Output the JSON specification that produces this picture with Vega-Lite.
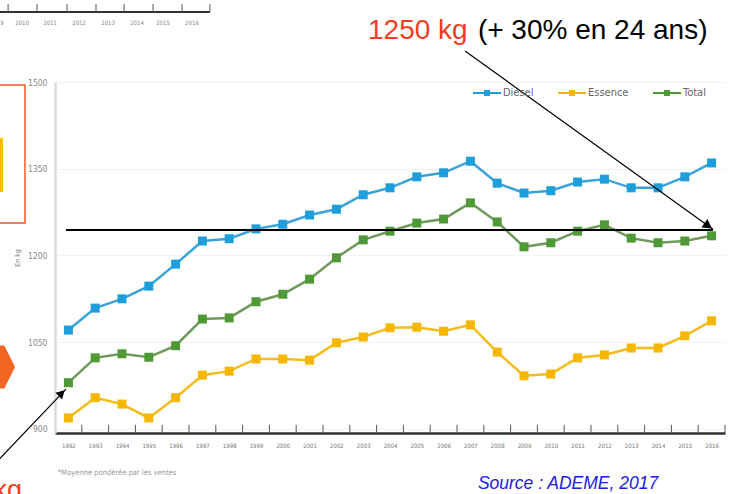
{
  "$schema": "https://vega.github.io/schema/vega-lite/v6.json",
  "width": 670,
  "height": 351,
  "autosize": "none",
  "padding": {"left": 55, "top": 82, "right": 6, "bottom": 61},
  "background": "white",
  "config": {"view": {"stroke": null}, "font": "Liberation Sans", "axisX": {"labelOverlap": false, "labelSeparation": 0}},
  "data": {"values": [
    {"year":1992,"series":"Diesel","kg":1071},{"year":1992,"series":"Essence","kg":919},{"year":1992,"series":"Total","kg":980},
    {"year":1993,"series":"Diesel","kg":1109},{"year":1993,"series":"Essence","kg":954},{"year":1993,"series":"Total","kg":1023},
    {"year":1994,"series":"Diesel","kg":1125},{"year":1994,"series":"Essence","kg":943},{"year":1994,"series":"Total","kg":1030},
    {"year":1995,"series":"Diesel","kg":1147},{"year":1995,"series":"Essence","kg":919},{"year":1995,"series":"Total","kg":1024},
    {"year":1996,"series":"Diesel","kg":1185},{"year":1996,"series":"Essence","kg":954},{"year":1996,"series":"Total","kg":1044},
    {"year":1997,"series":"Diesel","kg":1225},{"year":1997,"series":"Essence","kg":993},{"year":1997,"series":"Total","kg":1090},
    {"year":1998,"series":"Diesel","kg":1229},{"year":1998,"series":"Essence","kg":1000},{"year":1998,"series":"Total","kg":1092},
    {"year":1999,"series":"Diesel","kg":1246},{"year":1999,"series":"Essence","kg":1021},{"year":1999,"series":"Total","kg":1120},
    {"year":2000,"series":"Diesel","kg":1254},{"year":2000,"series":"Essence","kg":1021},{"year":2000,"series":"Total","kg":1133},
    {"year":2001,"series":"Diesel","kg":1270},{"year":2001,"series":"Essence","kg":1019},{"year":2001,"series":"Total","kg":1159},
    {"year":2002,"series":"Diesel","kg":1280},{"year":2002,"series":"Essence","kg":1049},{"year":2002,"series":"Total","kg":1196},
    {"year":2003,"series":"Diesel","kg":1305},{"year":2003,"series":"Essence","kg":1059},{"year":2003,"series":"Total","kg":1227},
    {"year":2004,"series":"Diesel","kg":1317},{"year":2004,"series":"Essence","kg":1075},{"year":2004,"series":"Total","kg":1242},
    {"year":2005,"series":"Diesel","kg":1336},{"year":2005,"series":"Essence","kg":1076},{"year":2005,"series":"Total","kg":1256},
    {"year":2006,"series":"Diesel","kg":1343},{"year":2006,"series":"Essence","kg":1069},{"year":2006,"series":"Total","kg":1263},
    {"year":2007,"series":"Diesel","kg":1363},{"year":2007,"series":"Essence","kg":1080},{"year":2007,"series":"Total","kg":1291},
    {"year":2008,"series":"Diesel","kg":1325},{"year":2008,"series":"Essence","kg":1033},{"year":2008,"series":"Total","kg":1258},
    {"year":2009,"series":"Diesel","kg":1308},{"year":2009,"series":"Essence","kg":992},{"year":2009,"series":"Total","kg":1215},
    {"year":2010,"series":"Diesel","kg":1312},{"year":2010,"series":"Essence","kg":995},{"year":2010,"series":"Total","kg":1222},
    {"year":2011,"series":"Diesel","kg":1327},{"year":2011,"series":"Essence","kg":1023},{"year":2011,"series":"Total","kg":1242},
    {"year":2012,"series":"Diesel","kg":1332},{"year":2012,"series":"Essence","kg":1028},{"year":2012,"series":"Total","kg":1253},
    {"year":2013,"series":"Diesel","kg":1317},{"year":2013,"series":"Essence","kg":1040},{"year":2013,"series":"Total","kg":1230},
    {"year":2014,"series":"Diesel","kg":1317},{"year":2014,"series":"Essence","kg":1040},{"year":2014,"series":"Total","kg":1222},
    {"year":2015,"series":"Diesel","kg":1336},{"year":2015,"series":"Essence","kg":1061},{"year":2015,"series":"Total","kg":1225},
    {"year":2016,"series":"Diesel","kg":1360},{"year":2016,"series":"Essence","kg":1087},{"year":2016,"series":"Total","kg":1234}
  ]},
  "layer": [
    {
      "mark": {"type": "line", "strokeWidth": 2.5},
      "encoding": {
        "x": {"field": "year", "type": "quantitative",
              "scale": {"domain": [1991.5, 2016.5], "nice": false, "zero": false},
              "axis": {"values": [1992,1993,1994,1995,1996,1997,1998,1999,2000,2001,2002,2003,2004,2005,2006,2007,2008,2009,2010,2011,2012,2013,2014,2015,2016],
                       "tickCount": 25, "format": "d", "title": null, "grid": false, "labelOverlap": false, "labelSeparation": 0,
                       "ticks": false, "domainColor": "#333", "domainWidth": 2.5,
                       "labelFont": "DejaVu Sans Condensed, Liberation Sans", "labelFontSize": 6, "labelColor": "#777", "labelPadding": 9}},
        "y": {"field": "kg", "type": "quantitative",
              "scale": {"domain": [893, 1500], "nice": false, "zero": false},
              "axis": {"values": [900, 1050, 1200, 1350, 1500], "format": "d", "title": "En kg",
                       "titleFont": "DejaVu Sans Condensed, Liberation Sans", "titleFontSize": 7, "titleColor": "#888", "titleFontWeight": "normal", "titlePadding": 7,
                       "ticks": false, "domainColor": "#dcdcdc", "domainWidth": 2.5,
                       "grid": true, "gridColor": "#f3f3f3",
                       "labelFont": "DejaVu Sans Condensed, Liberation Sans", "labelFontSize": 8.5, "labelColor": "#888", "labelPadding": 8}},
        "color": {"field": "series", "type": "nominal",
                  "scale": {"domain": ["Diesel", "Essence", "Total"], "range": ["#3aa4da", "#f5bd1c", "#6f9a5c"]},
                  "legend": {"title": null, "orient": "none", "direction": "horizontal",
                            "legendX": 418, "legendY": -3, "padding": 0, "columnPadding": 24,
                            "symbolSize": 784, "symbolStrokeWidth": 0, "labelOffset": 2,
                            "labelFont": "DejaVu Sans Condensed, Liberation Sans", "labelFontSize": 11, "labelColor": "#666",
                            "encode": {"symbols": {"update": {"shape": {"value": "M-1,-0.07H1V0.07H-1Z M-0.22,-0.22H0.22V0.22H-0.22Z"}, "strokeWidth": {"value": 0}, "opacity": {"value": 1}}}}}}
      }
    },
    {
      "mark": {"type": "point", "shape": "square", "filled": true, "size": 81, "opacity": 1, "strokeWidth": 0},
      "encoding": {
        "x": {"field": "year", "type": "quantitative"},
        "y": {"field": "kg", "type": "quantitative"},
        "fill": {"field": "series", "type": "nominal",
                 "scale": {"domain": ["Diesel", "Essence", "Total"], "range": ["#1e9fdb", "#f5b700", "#4f9a37"]},
                 "legend": null}
      }
    },
    {
      "data": {"values": [{"b":1992.5},{"b":1993.5},{"b":1994.5},{"b":1995.5},{"b":1996.5},{"b":1997.5},{"b":1998.5},{"b":1999.5},{"b":2000.5},{"b":2001.5},{"b":2002.5},{"b":2003.5},{"b":2004.5},{"b":2005.5},{"b":2006.5},{"b":2007.5},{"b":2008.5},{"b":2009.5},{"b":2010.5},{"b":2011.5},{"b":2012.5},{"b":2013.5},{"b":2014.5},{"b":2015.5},{"b":2016.5}]},
      "mark": {"type": "rule", "color": "#555", "strokeWidth": 1},
      "encoding": {"x": {"field": "b", "type": "quantitative"}, "y": {"datum": 893}, "y2": {"datum": 907}}
    },
    {
      "data": {"values": [{}]},
      "mark": {"type": "rule", "color": "black", "strokeWidth": 2},
      "encoding": {"x": {"datum": 1991.91}, "x2": {"datum": 2016.05}, "y": {"datum": 1244}}
    },
    {
      "data": {"values": [{}]},
      "mark": {"type": "rule", "color": "black", "strokeWidth": 1.2},
      "encoding": {"x": {"datum": 2006.8}, "y": {"datum": 1553.6}, "x2": {"datum": 2016.05}, "y2": {"datum": 1245.3}}
    },
    {
      "data": {"values": [{}]},
      "mark": {"type": "point", "shape": "triangle-right", "filled": true, "color": "black", "opacity": 1, "size": 110, "angle": 35.7},
      "encoding": {"x": {"datum": 2015.87}, "y": {"datum": 1251.3}}
    },
    {
      "data": {"values": [{}]},
      "mark": {"type": "rule", "color": "black", "strokeWidth": 1.2},
      "encoding": {"x": {"datum": 1989.3}, "y": {"datum": 842}, "x2": {"datum": 1991.91}, "y2": {"datum": 969}}
    },
    {
      "data": {"values": [{}]},
      "mark": {"type": "point", "shape": "triangle-right", "filled": true, "color": "black", "opacity": 1, "size": 90, "angle": -44.6},
      "encoding": {"x": {"datum": 1991.75}, "y": {"datum": 961.8}}
    },
    {
      "data": {"values": [{}]},
      "mark": {"type": "text", "align": "left", "baseline": "alphabetic", "fontSize": 28, "color": "#f23d1f", "font": "Liberation Sans"},
      "encoding": {"x": {"datum": 2003.18}, "y": {"datum": 1573.5}, "text": {"value": "1250 kg"}}
    },
    {
      "data": {"values": [{}]},
      "mark": {"type": "text", "align": "left", "baseline": "alphabetic", "fontSize": 28, "color": "black", "font": "Liberation Sans"},
      "encoding": {"x": {"datum": 2007.28}, "y": {"datum": 1573.5}, "text": {"value": "(+ 30% en 24 ans)"}}
    },
    {
      "data": {"values": [{}]},
      "mark": {"type": "text", "align": "left", "baseline": "alphabetic", "fontSize": 17.5, "fontStyle": "italic", "color": "#2020e0", "font": "Liberation Sans"},
      "encoding": {"x": {"datum": 2007.28}, "y": {"datum": 796}, "text": {"value": "Source : ADEME, 2017"}}
    },
    {
      "data": {"values": [{}]},
      "mark": {"type": "text", "align": "left", "baseline": "middle", "fontSize": 7.5, "color": "#999", "font": "DejaVu Sans Condensed, Liberation Sans"},
      "encoding": {"x": {"datum": 1991.61}, "y": {"datum": 823.8}, "text": {"value": "*Moyenne pondérée par les ventes"}}
    },
    {
      "data": {"values": [{}]},
      "mark": {"type": "text", "align": "right", "baseline": "alphabetic", "fontSize": 27, "color": "#f23d1f", "font": "Liberation Sans"},
      "encoding": {"x": {"datum": 1990.27}, "y": {"datum": 778.9}, "text": {"value": "kg"}}
    },
    {
      "data": {"values": [{}]},
      "mark": {"type": "rect", "fill": null, "stroke": "#f05a28", "strokeWidth": 1.5},
      "encoding": {"x": {"datum": 1989.2}, "x2": {"datum": 1990.38}, "y": {"datum": 1494.8}, "y2": {"datum": 1256.2}}
    },
    {
      "data": {"values": [{}]},
      "mark": {"type": "rect", "fill": "#ffc000"},
      "encoding": {"x": {"datum": 1989.2}, "x2": {"datum": 1989.56}, "y": {"datum": 1403.2}, "y2": {"datum": 1309.8}}
    },
    {
      "data": {"values": [{}]},
      "mark": {"type": "point", "shape": "M-3,-1H-0.5L0,0L-0.5,1H-3Z", "filled": true, "color": "#f26522", "opacity": 1, "size": 1849},
      "encoding": {"x": {"datum": 1990.01}, "y": {"datum": 1007}}
    },
    {
      "data": {"values": [{}]},
      "mark": {"type": "rule", "color": "#333", "strokeWidth": 2},
      "encoding": {"x": {"datum": 1989.3}, "x2": {"datum": 1997.28}, "y": {"datum": 1621}}
    },
    {
      "data": {"values": [{"tx": 1989.75}, {"tx": 1990.83}, {"tx": 1991.95}, {"tx": 1993.03}, {"tx": 1994.08}, {"tx": 1995.16}, {"tx": 1996.24}, {"tx": 1997.28}]},
      "mark": {"type": "rule", "color": "#555", "strokeWidth": 1},
      "encoding": {"x": {"field": "tx", "type": "quantitative"}, "y": {"datum": 1621}, "y2": {"datum": 1634.9}}
    },
    {
      "data": {"values": [{"lx": 1989.52, "t": "9"}, {"lx": 1990.27, "t": "2010"}, {"lx": 1991.32, "t": "2011"}, {"lx": 1992.4, "t": "2012"}, {"lx": 1993.48, "t": "2013"}, {"lx": 1994.56, "t": "2014"}, {"lx": 1995.53, "t": "2015"}, {"lx": 1996.61, "t": "2016"}]},
      "mark": {"type": "text", "align": "center", "baseline": "middle", "fontSize": 6, "color": "#888", "font": "DejaVu Sans Condensed, Liberation Sans"},
      "encoding": {"x": {"field": "lx", "type": "quantitative"}, "y": {"datum": 1602}, "text": {"field": "t"}}
    }
  ]
}
